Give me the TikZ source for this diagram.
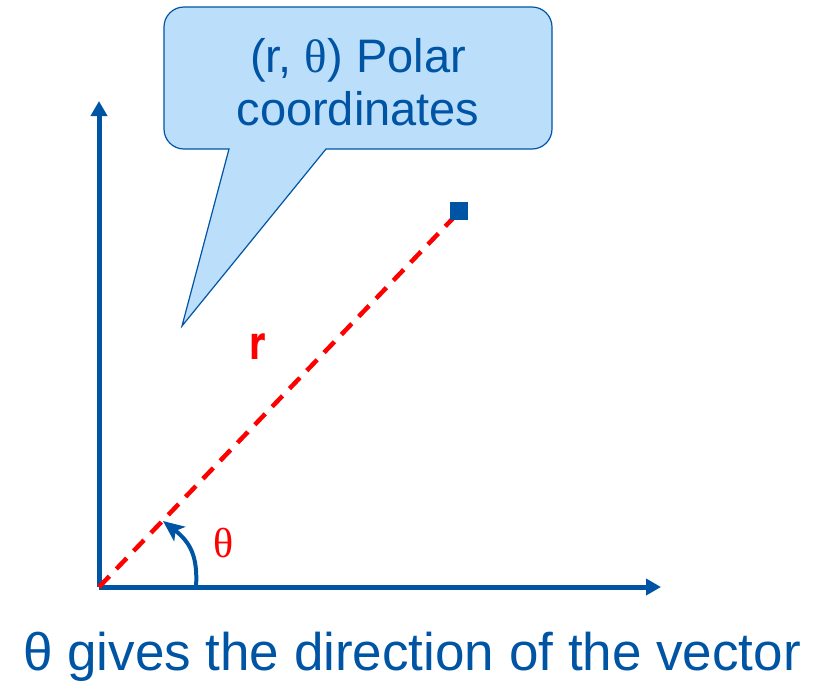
\documentclass[tikz,border=0pt]{standalone}
\usepackage{fontspec}
\setmainfont{Liberation Sans}
\newfontfamily\serifg{Liberation Serif}
\newfontfamily\rfont{DejaVu Sans}
\usetikzlibrary{arrows.meta}
\definecolor{axblue}{RGB}{0,84,164}
\definecolor{callfill}{RGB}{187,222,250}
\begin{document}
\begin{tikzpicture}[x=1pt,y=-1pt,
  axis/.style={draw=axblue,line width=5pt,-{Triangle[length=15pt,width=16pt]}},
  rline/.style={draw=red,line width=4.5pt,dash pattern=on 15pt off 10pt},
  calloutshape/.style={draw=axblue,fill=callfill,line width=1.2pt}]
\useasboundingbox (0,0) rectangle (819,681);
\coordinate (O) at (99,587);
\coordinate (Ytop) at (99,101);
\coordinate (Xend) at (661,587);
\coordinate (P) at (460,211);
\coordinate (A0) at (196,587);
\coordinate (A1) at (163,521);
% callout
\path[calloutshape] (182,326) -- (229,149)
  [rounded corners=20pt] -- (164,149) -- (164,7) -- (552,7) -- (552,149)
  [sharp corners] -- (326,149) -- cycle;
\node[text=axblue,font=\fontsize{47}{53}\selectfont,align=center] (ct) at (358,82)
  {(r, {\serifg θ}) Polar\\coordinates};
% axes
\draw[axis] (O) -- (Ytop);
\draw[axis] (O) -- (Xend);
% r line
\draw[rline] (O) -- (P);
\node[fill=axblue,minimum size=18pt,inner sep=0pt] (pt) at (459,211) {};
\node[text=red,font=\rfont\bfseries\fontsize{46}{46}\selectfont,xscale=0.7] (rl) at (257,347) {r};
% angle arc
\draw[draw=axblue,line width=4pt,-{Stealth[length=21pt,width=18pt,inset=5pt]}] (A0) .. controls (198,556) and (190,542) .. (A1);
\node[text=red,font=\serifg\fontsize{42}{42}\selectfont] (th) at (224,543) {θ};
% caption
\node[text=axblue,font=\fontsize{53}{53}\selectfont,anchor=base] (cap) at (412,670) {θ gives the direction of the vector};
\end{tikzpicture}
\end{document}
